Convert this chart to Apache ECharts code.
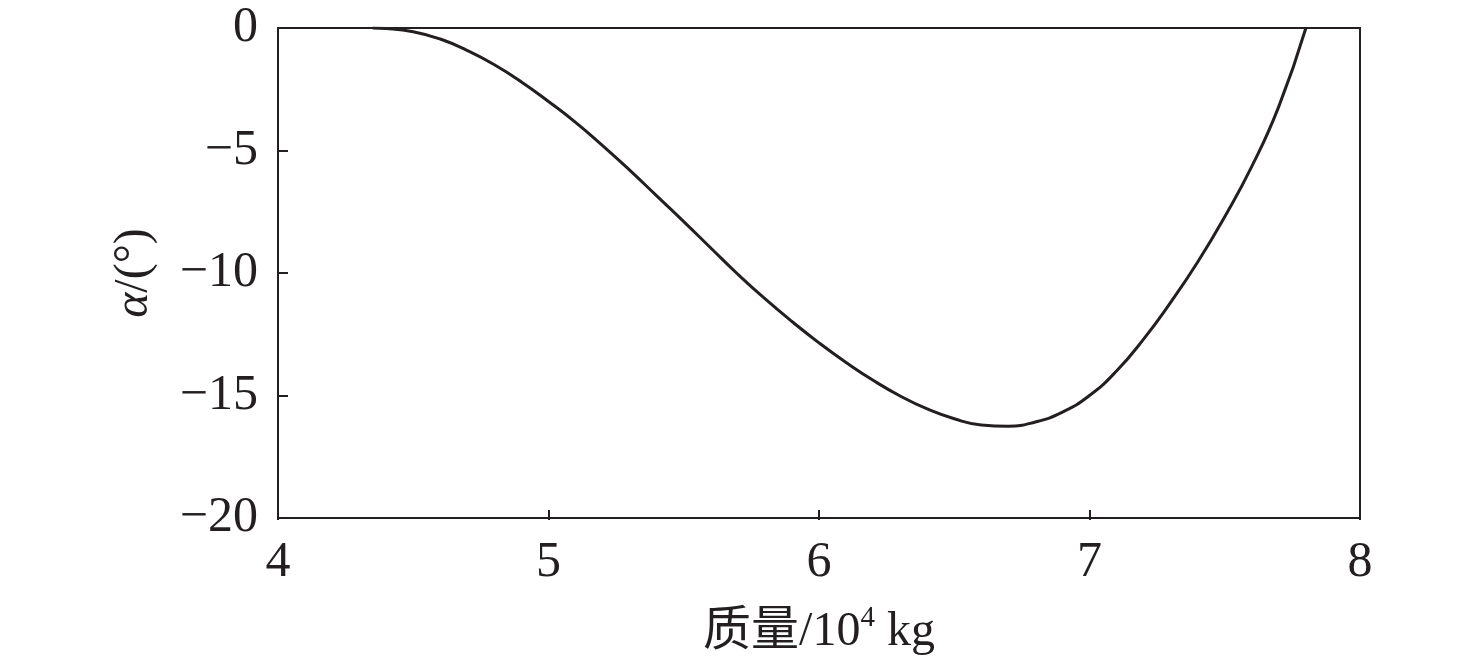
<!DOCTYPE html>
<html>
<head>
<meta charset="utf-8">
<script src="https://cdn.jsdelivr.net/npm/echarts@6/dist/echarts.min.js"></script>
<style>
html,body{margin:0;padding:0;background:#fff;}
#c{width:1476px;height:661px;}
</style>
</head>
<body>
<div id="c"></div>
<script>
const massX = [4.35, 4.4, 4.5, 4.6, 4.7, 4.8, 4.9, 5.0, 5.1, 5.2, 5.3, 5.4, 5.5, 5.6, 5.7, 5.8, 5.9, 6.0, 6.1, 6.2, 6.3, 6.4, 6.5, 6.6, 6.7, 6.8, 6.9, 7.0, 7.1, 7.2, 7.3, 7.4, 7.5, 7.6, 7.7, 7.8];
const alphaY = [0, -0.02, -0.15, -0.45, -0.92, -1.5, -2.2, -3.0, -3.85, -4.8, -5.8, -6.85, -7.9, -8.98, -10.05, -11.05, -11.98, -12.85, -13.65, -14.38, -15.02, -15.55, -15.95, -16.2, -16.25, -16.08, -15.68, -15.0, -14.0, -12.7, -11.2, -9.55, -7.7, -5.65, -3.2, 0];
const xTicks = [4, 5, 6, 7, 8];
const yTicks = [0, -5, -10, -15, -20];

const ink = '#231f20';
const serif = '"Liberation Serif", "Times New Roman", serif';
const W = 1476, H = 661;
const G = { left: 278, right: 116, top: 28, bottom: 141 };
const gw = W - G.left - G.right, gh = H - G.top - G.bottom;
const xr = { type: 'value', min: xTicks[0], max: xTicks[xTicks.length - 1], interval: 1 };
const yr = { type: 'value', min: yTicks[yTicks.length - 1], max: yTicks[0], interval: 5 };
const tickStyle = { show: true, inside: false, length: 10, lineStyle: { color: ink, width: 2 } };
const chart = echarts.init(document.getElementById('c'));
chart.setOption({
  backgroundColor: '#fff',
  animation: false,
  grid: Object.assign({ show: false }, G),
  xAxis: [Object.assign({}, xr, {
    position: 'bottom',
    axisLine: { show: true, onZero: false, lineStyle: { color: ink, width: 2 } },
    axisTick: { show: false },
    splitLine: { show: false },
    axisLabel: { color: ink, fontFamily: serif, fontSize: 50, margin: 20 },
    name: '{a|质量/10}{s|4}{a| kg}',
    nameLocation: 'middle', nameGap: 86,
    nameTextStyle: {
      rich: {
        a: { fontFamily: '"Liberation Serif", "Noto Sans CJK SC", serif', fontSize: 48, color: ink, lineHeight: 52, verticalAlign: 'bottom' },
        s: { fontFamily: serif, fontSize: 29, color: ink, lineHeight: 52, verticalAlign: 'top', padding: [0, 0, 18, 0] }
      }
    }
  }), Object.assign({}, xr, {
    position: 'top',
    axisLine: { show: true, onZero: false, lineStyle: { color: ink, width: 2 } },
    axisTick: { show: false }, axisLabel: { show: false }, splitLine: { show: false }
  }), Object.assign({}, xr, {
    position: 'top', offset: -gh,
    axisLine: { show: false, onZero: false },
    axisTick: tickStyle, axisLabel: { show: false }, splitLine: { show: false }
  })],
  yAxis: [Object.assign({}, yr, {
    position: 'left',
    axisLine: { show: true, onZero: false, lineStyle: { color: ink, width: 2 } },
    axisTick: { show: false },
    splitLine: { show: false },
    axisLabel: { color: ink, fontFamily: serif, fontSize: 50, margin: 20,
      formatter: v => String(v).replace('-', '\u2212') },
    name: '{i|α}{a|/(°)}',
    nameLocation: 'middle', nameGap: 120, nameRotate: 90,
    nameTextStyle: {
      rich: {
        i: { fontFamily: serif, fontStyle: 'italic', fontSize: 48, color: ink },
        a: { fontFamily: serif, fontSize: 48, color: ink }
      }
    }
  }), Object.assign({}, yr, {
    position: 'right',
    axisLine: { show: true, onZero: false, lineStyle: { color: ink, width: 2 } },
    axisTick: { show: false }, axisLabel: { show: false }, splitLine: { show: false }
  }), Object.assign({}, yr, {
    position: 'right', offset: -gw,
    axisLine: { show: false, onZero: false },
    axisTick: tickStyle, axisLabel: { show: false }, splitLine: { show: false }
  })],
  series: [{
    type: 'line',
    xAxisIndex: 0, yAxisIndex: 0,
    data: massX.map((x, i) => [x, alphaY[i]]),
    smooth: 0.5,
    showSymbol: false,
    lineStyle: { color: ink, width: 3 }
  }]
});
</script>
</body>
</html>
